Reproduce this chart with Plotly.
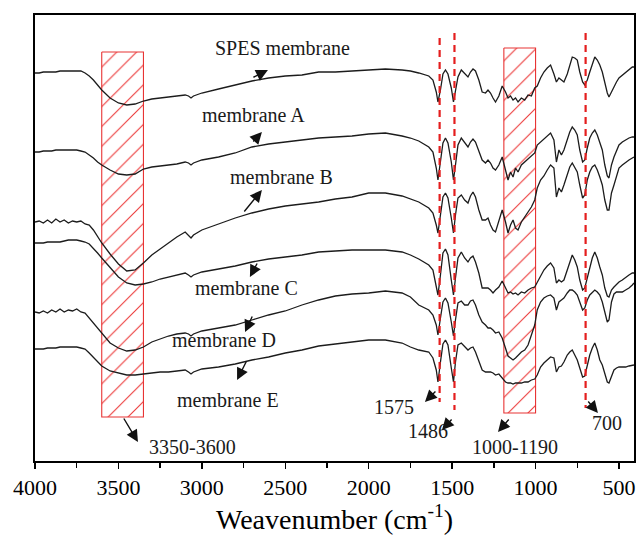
import plotly.graph_objects as go

# ---------------- data ----------------
# wavenumber grid (cm-1)
WAVENUMBER = [
    4000, 3975, 3950, 3925, 3900, 3875, 3850, 3825, 3800, 3775, 3750, 3725, 3700, 3675,
    3650, 3625, 3600, 3550, 3500, 3450, 3400, 3350, 3300, 3250, 3200, 3150, 3100, 3080,
    3065, 3050, 3000, 2900, 2800, 2700, 2600, 2500, 2400, 2300, 2200, 2100, 2000, 1900,
    1800, 1750,
    1700, 1640, 1615, 1595, 1585, 1570, 1555, 1540, 1525, 1505, 1492, 1480, 1465, 1445,
    1425, 1405, 1390, 1375, 1360, 1340, 1320, 1300, 1285, 1270, 1255, 1240, 1220, 1200,
    1180, 1165, 1150, 1135, 1120, 1105, 1085, 1065, 1045, 1025, 1005, 990, 970, 950,
    930, 910, 890, 875, 860, 845, 830, 810, 795, 780, 765, 750, 735, 718, 705, 690,
    675, 660, 645, 630, 615, 600, 585, 570, 560, 545, 530, 515, 500, 480, 460, 440,
    420, 410,
]

# stacked spectra, offset units (axis drawn downward-increasing, no tick labels)
SPES = [
    73, 73, 72, 72, 72, 72, 71, 71, 71, 71, 71, 71, 73, 76, 80, 85, 90, 98, 103, 105,
    104, 101, 99, 98, 97, 96, 95, 96, 98, 96, 93, 89, 85, 81, 78, 76, 75, 72, 72, 71,
    70, 69, 70, 71,
    73, 76, 80, 92, 102, 90, 74, 70, 74, 88, 102, 92, 77, 70, 73, 77, 72, 69, 71, 80,
    92, 93, 90, 93, 98, 102, 96, 86, 92, 98, 96, 100, 98, 102, 98, 100, 95, 96, 88, 86,
    78, 72, 68, 65, 74, 82, 78, 80, 82, 74, 66, 57, 58, 60, 72, 82, 85, 80, 72, 64,
    57, 60, 65, 72, 83, 93, 97, 92, 86, 82, 78, 75, 72, 69, 67, 67,
]
MEM_A = [
    152, 152, 151, 151, 151, 150, 150, 150, 150, 150, 150, 151, 152, 155, 158, 162, 165,
    170, 174, 175, 174, 169, 167, 166, 165, 164, 162, 163, 165, 163, 160, 157, 153, 147,
    144, 142, 140, 138, 137, 136, 134, 133, 136, 138,
    141, 147, 152, 168, 180, 160, 143, 138, 143, 162, 180, 165, 145, 138, 143, 147, 142,
    139, 142, 152, 160, 163, 160, 163, 168, 170, 165, 157, 170, 180, 172, 177, 168, 172,
    165, 162, 158, 155, 153, 145, 142, 140, 136, 133, 140, 162, 150, 155, 150, 140, 132,
    127, 130, 135, 150, 162, 160, 148, 138, 133, 130, 135, 143, 150, 165, 176, 178, 165,
    157, 150, 145, 142, 140, 138, 137, 137,
]
MEM_B = [
    222, 221, 223, 220, 223, 219, 222, 220, 223, 221, 222, 221, 224, 225, 230, 237, 243,
    254, 264, 271, 270, 263, 255, 249, 243, 237, 232, 235, 238, 235, 230, 224, 218, 213,
    209, 206, 204, 202, 199, 197, 193, 193, 196, 199,
    202, 208, 213, 225, 233, 215, 197, 193, 198, 218, 233, 215, 198, 195, 200, 203, 196,
    192, 197, 210, 220, 220, 218, 225, 230, 232, 222, 210, 222, 233, 225, 220, 228, 230,
    222, 217, 213, 207, 200, 188, 180, 176, 170, 165, 168, 197, 188, 192, 185, 175, 167,
    163, 168, 172, 185, 198, 195, 180, 172, 167, 165, 170, 177, 185, 200, 210, 210, 193,
    185, 175, 168, 165, 162, 160, 158, 157,
]
MEM_C = [
    243, 243, 243, 242, 242, 242, 242, 241, 240, 240, 240, 241, 242, 244, 248, 253, 258,
    268, 277, 283, 285, 284, 282, 279, 277, 275, 273, 275, 277, 275, 272, 269, 266, 262,
    259, 257, 255, 252, 251, 250, 250, 250, 252, 255,
    259, 265, 270, 285, 295, 275, 253, 249, 255, 280, 295, 278, 258, 252, 258, 262, 258,
    256, 262, 273, 288, 288, 288, 290, 293, 290, 287, 281, 288, 293, 292, 294, 293, 295,
    292, 293, 290, 288, 287, 282, 275, 270, 266, 263, 268, 283, 280, 282, 280, 270, 262,
    255, 260, 267, 280, 290, 288, 278, 268, 258, 252, 258, 267, 275, 288, 296, 297, 290,
    287, 284, 282, 280, 277, 275, 273, 273,
]
MEM_D = [
    312, 313, 311, 313, 310, 312, 309, 312, 310, 311, 309, 312, 313, 318, 322, 327, 332,
    343, 348, 351, 350, 347, 342, 339, 336, 334, 333, 334, 336, 334, 331, 328, 325, 320,
    315, 311, 305, 300, 296, 294, 293, 291, 293, 297,
    305, 310, 315, 325, 335, 318, 302, 298, 303, 322, 336, 320, 303, 301, 305, 305, 301,
    300, 305, 315, 322, 325, 328, 328, 330, 333, 332, 338, 348, 356, 358, 360, 358, 355,
    352, 350, 345, 335, 325, 310, 302, 298, 296, 295, 298, 310, 302, 300, 298, 293, 290,
    290, 292, 295, 302, 310, 308, 300, 295, 292, 290, 292, 295, 302, 312, 322, 320, 302,
    294, 292, 292, 292, 290, 288, 285, 283,
]
MEM_E = [
    349, 349, 349, 348, 348, 348, 347, 347, 347, 347, 347, 348, 349, 353, 357, 362, 366,
    371, 373, 375, 375, 374, 373, 372, 372, 371, 370, 372, 374, 372, 369, 367, 364, 360,
    357, 353, 350, 346, 344, 342, 340, 340, 343, 347,
    350, 352, 358, 370, 382, 362, 344, 340, 345, 368, 382, 362, 345, 343, 347, 350, 348,
    347, 352, 362, 370, 372, 372, 372, 373, 375, 374, 378, 382, 383, 383, 384, 383, 383,
    383, 382, 382, 380, 379, 375, 367, 363, 360, 357, 358, 372, 367, 366, 362, 355, 352,
    350, 355, 360, 368, 377, 376, 365, 355, 348, 343, 350, 360, 365, 375, 382, 383, 377,
    370, 368, 367, 367, 367, 366, 365, 365,
]
SERIES = [SPES, MEM_A, MEM_B, MEM_C, MEM_D, MEM_E]

# hatched bands: (start, end, top, bottom)
BANDS = [(3600, 3350, 52, 417), (1190, 1000, 48, 413)]
# dashed marker lines: (wavenumber, top, bottom)
MARK_LINES = [(1575, 38, 402), (1486, 33, 410), (700, 33, 408)]

# labels: (text, x, y)
LABELS = [
    ("SPES membrane", 2514, 48),
    ("membrane A", 2693, 115),
    ("membrane B", 2520, 177),
    ("membrane C", 2735, 288),
    ("membrane D", 2867, 340),
    ("membrane E", 2843, 400),
    ("3350-3600", 3059, 447),
    ("1575", 1849, 407),
    ("1486", 1645, 431),
    ("1000-1190", 1123, 447),
    ("700", 572, 423),
]
# arrows: (head x, head y, tail x, tail y)
ARROWS = [
    (2604, 70, 2700, 78),
    (2640, 132, 2700, 143),
    (2640, 190, 2753, 213),
    (2712, 277, 2664, 262),
    (2741, 332, 2694, 315),
    (2789, 380, 2729, 360),
    (3383, 442, 3473, 417),
    (1663, 402, 1591, 390),
    (1561, 430, 1495, 418),
    (1225, 432, 1153, 418),
    (626, 413, 692, 400),
]
X_TITLE = "Weavenumber (cm<sup>-1</sup>)"

# ---------------- figure ----------------
SERIF = "Liberation Serif, Times New Roman, serif"
RED = "rgb(232,52,52)"

fig = go.Figure()

for x0, x1, top, bottom in BANDS:
    fig.add_trace(go.Scatter(
        x=[x0, x1, x1, x0, x0], y=[top, top, bottom, bottom, top],
        mode="lines", fill="toself", fillcolor="rgba(0,0,0,0)",
        fillpattern=dict(shape="/", fgcolor="rgb(236,60,60)", fgopacity=1,
                         bgcolor="rgba(0,0,0,0)", size=14, solidity=0.08),
        line=dict(color=RED, width=1.1), hoverinfo="skip", showlegend=False))

for vals in SERIES:
    assert len(vals) == len(WAVENUMBER)
    fig.add_trace(go.Scatter(x=WAVENUMBER, y=vals, mode="lines",
                             line=dict(color="#1c1c1c", width=1.3),
                             showlegend=False))

for wn, top, bottom in MARK_LINES:
    fig.add_shape(type="line", xref="x", yref="y", x0=wn, x1=wn, y0=top, y1=bottom,
                  line=dict(color="rgb(228,30,30)", width=2.2, dash="7px,5px"))

for text, x, y in LABELS:
    fig.add_annotation(x=x, y=y, xref="x", yref="y", text=text, showarrow=False,
                       font=dict(family=SERIF, size=20, color="#1a1a1a"))

for hx, hy, tx, ty in ARROWS:
    fig.add_annotation(x=hx, y=hy, ax=tx, ay=ty, xref="x", yref="y",
                       axref="x", ayref="y", text="", showarrow=True,
                       arrowhead=2, arrowsize=1.7, arrowwidth=1.4,
                       arrowcolor="#111111", standoff=0, startstandoff=0)

# axis title
fig.add_annotation(x=0.5, y=-0.127, xref="paper", yref="paper", text=X_TITLE,
                   showarrow=False, xanchor="center", yanchor="middle",
                   font=dict(family=SERIF, size=28, color="black"))

fig.update_layout(
    width=637, height=535,
    margin=dict(l=35, r=3, t=15, b=74, autoexpand=False),
    paper_bgcolor="white", plot_bgcolor="white",
    font=dict(family=SERIF, color="black"),
    showlegend=False,
    xaxis=dict(
        range=[4000, 410], tick0=0, dtick=500, automargin=False,
        ticks="outside", ticklen=6, tickwidth=1.5, tickcolor="black",
        minor=dict(ticks="outside", ticklen=5, tickwidth=1.5, tickcolor="black", dtick=250),
        showline=True, linecolor="black", linewidth=1.6, mirror=True,
        showgrid=False, zeroline=False,
        tickfont=dict(family=SERIF, size=22, color="black"),
    ),
    yaxis=dict(
        range=[461, 15], showticklabels=False, ticks="", automargin=False,
        showline=True, linecolor="black", linewidth=1.6, mirror=True,
        showgrid=False, zeroline=False,
    ),
)

fig.write_html(
    "out.html",
    config={"displayModeBar": False, "staticPlot": True},
    post_script="document.body.style.margin='0px';document.body.style.overflow='hidden';",
)
